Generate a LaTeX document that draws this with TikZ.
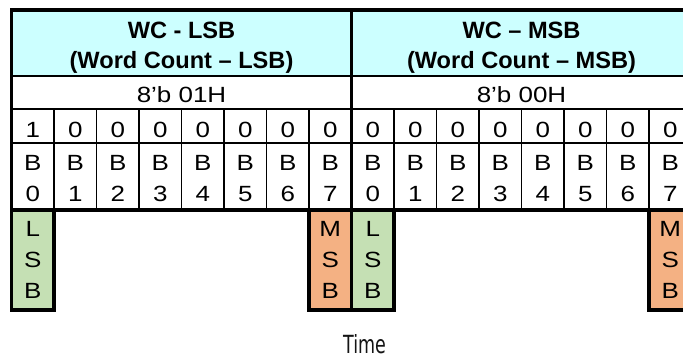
\documentclass[tikz,border=0pt]{standalone}
\usepackage{fontspec}
\setmainfont{Liberation Sans}
\newfontfamily\tabfont[FakeStretch=1.18]{Liberation Sans}
\newfontfamily\headfont{Liberation Sans}
\newfontfamily\timefont[FakeStretch=0.7]{DejaVu Sans}
\definecolor{headcyan}{RGB}{204,255,255}
\definecolor{lsbgreen}{RGB}{197,224,180}
\definecolor{msborange}{RGB}{244,177,131}
\definecolor{timegray}{RGB}{20,20,20}
\begin{document}
\begin{tikzpicture}[x=1pt,y=-1pt,
  grid/.style={line width=1.7pt},
  frame/.style={line width=3.2pt},
  txt/.style={inner sep=0pt, anchor=base, font=\tabfont\fontsize{22}{31}\selectfont},
  headtxt/.style={inner sep=0pt, align=center, font=\headfont\bfseries\fontsize{23.6}{30}\selectfont},
  sigbox/.style={draw, line width=3.2pt, minimum width=42.5pt, minimum height=100pt, inner sep=0pt,
     align=center, font=\tabfont\fontsize{22}{31}\selectfont},
  timetxt/.style={inner sep=0pt, anchor=base, text=timegray, font=\timefont\fontsize{25}{30}\selectfont}]
\useasboundingbox (0,0) rectangle (683,358);
\clip (0,0) rectangle (683,358);
% header fill
\fill[headcyan] (11.5,10) rectangle (691.5,76);
% grid lines
\draw[grid] (11.5,76) -- (691.5,76);
\draw[grid] (11.5,109) -- (691.5,109);
\draw[grid] (11.5,143) -- (691.5,143);
\foreach \i in {1,...,7,9,10,...,15} {
  \draw[grid] ({11.5+42.5*\i},109) -- ({11.5+42.5*\i},210);
}
% frame
\draw[frame] (11.5,210) -- (11.5,10) -- (691.5,10) -- (691.5,210) -- cycle;
\draw[frame] (351.5,10) -- (351.5,210);
% LSB / MSB boxes
\node[sigbox, fill=lsbgreen] (lsbA) at (32.75,260) {L\\S\\B};
\node[sigbox, fill=msborange] (msbA) at (330.25,260) {M\\S\\B};
\node[sigbox, fill=lsbgreen] (lsbB) at (372.75,260) {L\\S\\B};
\node[sigbox, fill=msborange] (msbB) at (670.25,260) {M\\S\\B};
% headers
\node[headtxt] (hdrA) at (181.5,48) {WC - LSB\\(Word Count – LSB)};
\node[headtxt] (hdrB) at (521.5,48) {WC – MSB\\(Word Count – MSB)};
% hex values
\node[txt] (hexA) at (181.5,102.5) {8’b 01H};
\node[txt] (hexB) at (521.5,102.5) {8’b 00H};
% bit values
\foreach \v [count=\i from 0] in {1,0,0,0,0,0,0,0,0,0,0,0,0,0,0,0} {
  \node[txt] (bit\i) at ({32.75+42.5*\i},137.5) {\v};
}
% bit names
\foreach \n [count=\i from 0] in {0,1,2,3,4,5,6,7,0,1,2,3,4,5,6,7} {
  \node[txt] (bname\i) at ({32.75+42.5*\i},170.5) {B};
  \node[txt] (bnum\i) at ({32.75+42.5*\i},201.5) {\n};
}
% time label
\node[timetxt] (time) at (364.5,353) {Time};
\end{tikzpicture}
\end{document}
